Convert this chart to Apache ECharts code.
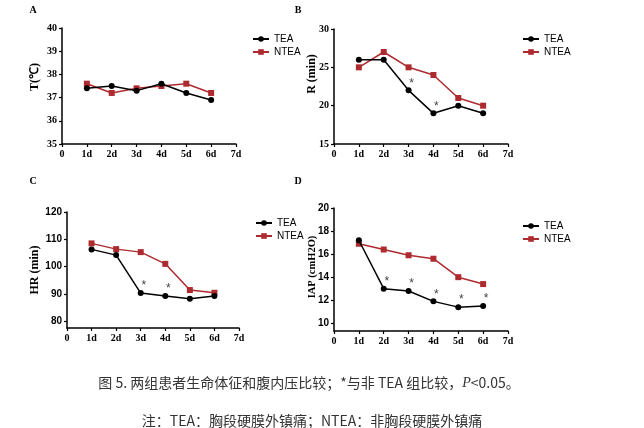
<!DOCTYPE html>
<html><head><meta charset="utf-8">
<script src="https://cdn.jsdelivr.net/npm/echarts@6/dist/echarts.min.js"></script>
<style>html,body{margin:0;padding:0;background:#fff}#c{width:644px;height:428px}</style>
</head><body><div id="c"></div>
<script>
const xTicks = ['0','1d','2d','3d','4d','5d','6d','7d'];
const days = [1,2,3,4,5,6];
const tempTEA = [37.4,37.5,37.3,37.6,37.2,36.9];
const tempNTEA = [37.6,37.2,37.4,37.5,37.6,37.2];
const rTEA = [26,26,22,19,20,19];
const rNTEA = [25,27,25,24,21,20];
const hrTEA = [106.3,104.2,90.3,89.2,88.2,89.2];
const hrNTEA = [108.5,106.4,105.3,101,91.4,90.4];
const iapTEA = [17.2,13.0,12.8,11.9,11.4,11.5];
const iapNTEA = [16.9,16.4,15.9,15.6,14.0,13.4];
const sigTemp = [0,0,0,0,0,0];
const sigR = [0,0,1,1,0,0];
const sigHR = [0,0,1,1,0,0];
const sigIAP = [0,1,1,1,1,1];
const tempTicks = [35,36,37,38,39,40];
const rTicks = [15,20,25,30];
const hrTicks = [80,90,100,110,120];
const iapTicks = [10,12,14,16,18,20];

const RED = '#ad2a2f';
const serif = 'Liberation Serif';
const sans = 'Liberation Sans';

const grids = [
  {left:62, top:28, width:174, height:116},
  {left:334, top:29, width:174, height:115},
  {left:67, top:212, width:172, height:116},
  {left:334, top:208, width:174, height:123}
];
const yCfg = [
  {min:35, max:40, ticks:tempTicks, font:serif},
  {min:15, max:30, ticks:rTicks, font:serif},
  {min:77.5, max:120, ticks:hrTicks, font:sans},
  {min:9.33, max:20, ticks:iapTicks, font:sans}
];
const legendPos = [
  {left:247, top:29}, {left:517, top:29}, {left:250, top:213}, {left:517, top:216}
];

const xAxes = grids.map((g,i)=>({
  type:'value', gridIndex:i, min:0, max:7, interval:1,
  axisLine:{lineStyle:{color:'#000', width:1.5}},
  axisTick:{show:true, length:3, lineStyle:{color:'#000', width:1.2}},
  axisLabel:{formatter:(v)=>xTicks[v], fontFamily:serif, fontWeight:'bold', fontSize:10, color:'#000', margin:5},
  splitLine:{show:false}
}));
const yAxes = yCfg.map((c,i)=>({
  type:'value', gridIndex:i, min:c.min, max:c.max,
  axisLine:{show:true, lineStyle:{color:'#000', width:1.5}},
  axisTick:{show:true, length:3, customValues:c.ticks, lineStyle:{color:'#000', width:1.2}},
  axisLabel:{customValues:c.ticks, fontFamily:c.font, fontWeight:'bold', fontSize:10, color:'#000', margin:5},
  splitLine:{show:false}
}));

function mk(vals, sig){
  return vals.map((v,k)=>({
    value:[days[k], v],
    label:{show:!!sig[k], formatter:'*', position:'top', offset:[3,7], fontSize:12, color:'#444', fontFamily:sans}
  }));
}
const zero = [0,0,0,0,0,0];
const sets = [
  [tempTEA, tempNTEA, sigTemp],
  [rTEA, rNTEA, sigR],
  [hrTEA, hrNTEA, sigHR],
  [iapTEA, iapNTEA, sigIAP]
];
const series = [];
sets.forEach((s,i)=>{
  series.push({name:'TEA', type:'line', xAxisIndex:i, yAxisIndex:i, data:mk(s[0], s[2]),
    symbol:'circle', symbolSize:6, color:'#000', lineStyle:{color:'#000', width:1.5}, z:3});
  series.push({name:'NTEA', type:'line', xAxisIndex:i, yAxisIndex:i, data:mk(s[1], zero),
    symbol:'rect', symbolSize:6, color:RED, lineStyle:{color:RED, width:1.5}, z:2});
});
const legends = legendPos.map(p=>({
  data:['TEA','NTEA'], orient:'vertical', left:p.left, top:p.top, itemGap:3,
  itemWidth:16, itemHeight:7, textStyle:{fontFamily:sans, fontSize:10, color:'#000'}
}));

const yTitles = [
  {t:'T(℃)', x:35, y:77, s:12},
  {t:'R (min)', x:312, y:74, s:12},
  {t:'HR (min)', x:35, y:270, s:12},
  {t:'IAP (cmH2O)', x:312, y:267, s:10.5}
];
const letters = [
  {t:'A', x:33, y:10}, {t:'B', x:298, y:10}, {t:'C', x:33, y:181}, {t:'D', x:298, y:181}
];
const graphic = [];
yTitles.forEach(o=>graphic.push({type:'text', x:o.x, y:o.y, rotation:Math.PI/2,
  style:{text:o.t, fontFamily:serif, fontWeight:'bold', fontSize:o.s, fill:'#000', align:'center', verticalAlign:'middle'}}));
letters.forEach(o=>graphic.push({type:'text', x:o.x, y:o.y,
  style:{text:o.t, fontFamily:serif, fontWeight:'bold', fontSize:10, fill:'#000', align:'center', verticalAlign:'middle'}}));
graphic.push({type:'text', x:309, y:383, style:{
  text:'图 5. 两组患者生命体征和腹内压比较；*与非 TEA 组比较，{i|P}<0.05。',
  fontFamily:'Noto Sans CJK SC', fontSize:14, fill:'#333', align:'center', verticalAlign:'middle',
  rich:{i:{fontStyle:'italic', fontFamily:serif, fontSize:14, fill:'#333'}}}});
graphic.push({type:'text', x:312, y:421, style:{
  text:'注：TEA：胸段硬膜外镇痛；NTEA：非胸段硬膜外镇痛',
  fontFamily:'Noto Sans CJK SC', fontSize:14, fill:'#333', align:'center', verticalAlign:'middle'}});

const chart = echarts.init(document.getElementById('c'), null, {renderer:'canvas'});
chart.setOption({
  animation:false,
  backgroundColor:'#fff',
  grid:grids, xAxis:xAxes, yAxis:yAxes, series:series, legend:legends, graphic:graphic
});
</script></body></html>
